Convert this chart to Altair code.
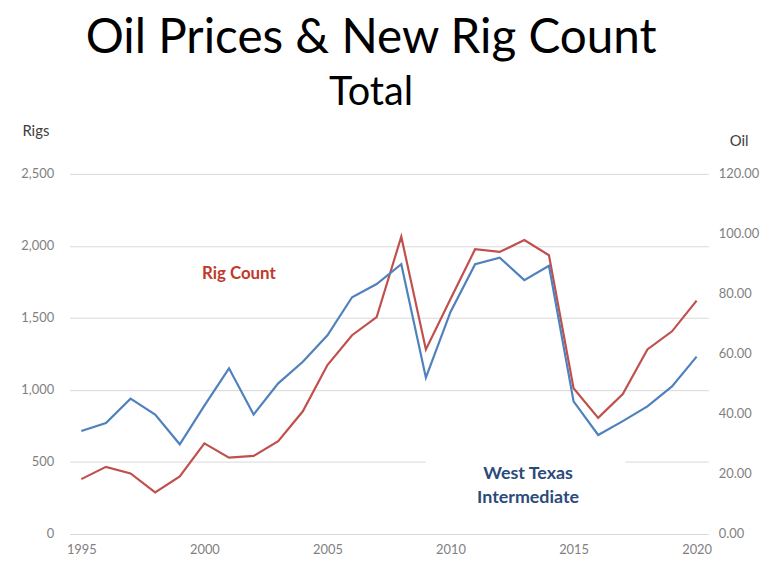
import altair as alt
import pandas as pd

years = list(range(1995, 2021))
rig_count = [381, 466, 420, 289, 400, 629, 530, 542, 645, 852, 1173, 1380, 1506, 2064,
             1281, 1632, 1977, 1958, 2041, 1935, 1012, 806, 971, 1281, 1407, 1620]
wti_price = [34.3, 37.0, 45.1, 39.8, 29.9, 42.8, 55.2, 39.8, 50.2, 57.4, 66.2, 78.9, 83.3, 89.9,
             52.1, 74.0, 89.9, 92.1, 84.6, 89.4, 44.2, 33.0, 37.6, 42.5, 49.2, 59.1]

rig_ticks = [0, 500, 1000, 1500, 2000, 2500]
oil_ticks = [0, 20, 40, 60, 80, 100, 120]
year_ticks = [1995, 2000, 2005, 2010, 2015, 2020]

label_years = [2001.4, 2013.15, 2013.15]
label_rigs = [1804, 413, 248]
label_texts = ["Rig Count", "West Texas", "Intermediate"]
label_colors = ["#c0392b", "#2b4a7a", "#2b4a7a"]
label_sizes = [17, 18, 18]

box_year = [2009.0]
box_year2 = [2017.1]
box_rig = [320]
box_rig2 = [560]

df = pd.DataFrame({"year": years, "rigs": rig_count, "oil": wti_price})
labels = pd.DataFrame({"year": label_years, "rigs": label_rigs, "label": label_texts,
                       "color": label_colors, "size": label_sizes})
box = pd.DataFrame({"year": box_year, "year2": box_year2, "rigs": box_rig, "rigs2": box_rig2})

FONT = "Lato"
xscale = alt.Scale(domain=[1994.52, 2020.48], nice=False, zero=False)
rscale = alt.Scale(domain=[0, 2500], nice=False)
oscale = alt.Scale(domain=[0, 120], nice=False)

xaxis = alt.Axis(values=year_ticks, format="d", title=None, grid=False, domain=False, ticks=False,
                 labelFont=FONT, labelFontSize=13, labelColor="#7f7f7f", labelPadding=10)

rig_line = alt.Chart(df).mark_line(color="#c0504d", strokeWidth=2.2).encode(
    x=alt.X("year:Q", scale=xscale, axis=xaxis),
    y=alt.Y("rigs:Q", scale=rscale,
            axis=alt.Axis(orient="left", values=rig_ticks, format=",d", title="Rigs",
                          titleAngle=0, titleAlign="left", titleBaseline="middle",
                          titleX=-48, titleY=-44, titleFont=FONT, titleFontSize=15,
                          titleFontWeight="normal", titleColor="#404040",
                          grid=True, gridColor="#d9d9d9", gridWidth=1,
                          domain=False, ticks=False, labelPadding=16,
                          labelFont=FONT, labelFontSize=13, labelColor="#7f7f7f")),
)

box_layer = alt.Chart(box).mark_rect(color="white").encode(
    x=alt.X("year:Q", scale=xscale), x2="year2:Q",
    y=alt.Y("rigs:Q", scale=rscale), y2="rigs2:Q",
)

text_layer = alt.Chart(labels).mark_text(font=FONT, fontWeight="bold").encode(
    x=alt.X("year:Q", scale=xscale),
    y=alt.Y("rigs:Q", scale=rscale),
    text="label:N",
    color=alt.Color("color:N", scale=None),
    size=alt.Size("size:Q", scale=None),
)

left = alt.layer(box_layer, rig_line, text_layer)

oil_line = alt.Chart(df).mark_line(color="#4f81bd", strokeWidth=2.2).encode(
    x=alt.X("year:Q", scale=xscale, axis=xaxis),
    y=alt.Y("oil:Q", scale=oscale,
            axis=alt.Axis(orient="right", values=oil_ticks, format=".2f", title="Oil",
                          titleAngle=0, titleAlign="left", titleBaseline="middle",
                          titleX=21, titleY=-34, titleFont=FONT, titleFontSize=15,
                          titleFontWeight="normal", titleColor="#404040",
                          grid=False, domain=False, ticks=False, labelPadding=10,
                          labelFont=FONT, labelFontSize=13, labelColor="#7f7f7f")),
)

chart = alt.layer(left, oil_line).resolve_scale(y="independent").properties(
    width=644, height=363,
    padding={"left": 12, "top": 5, "right": 5, "bottom": 0},
    title=alt.TitleParams(text="Oil Prices & New Rig Count", subtitle="Total",
                          font=FONT, fontSize=48, fontWeight="normal", color="#000000",
                          subtitleFont=FONT, subtitleFontSize=40, subtitleColor="#000000",
                          subtitlePadding=11, anchor="middle", dx=-18, offset=10),
).configure_view(stroke=None)

chart.save("out.html", embed_options={"renderer": "svg", "actions": False})
